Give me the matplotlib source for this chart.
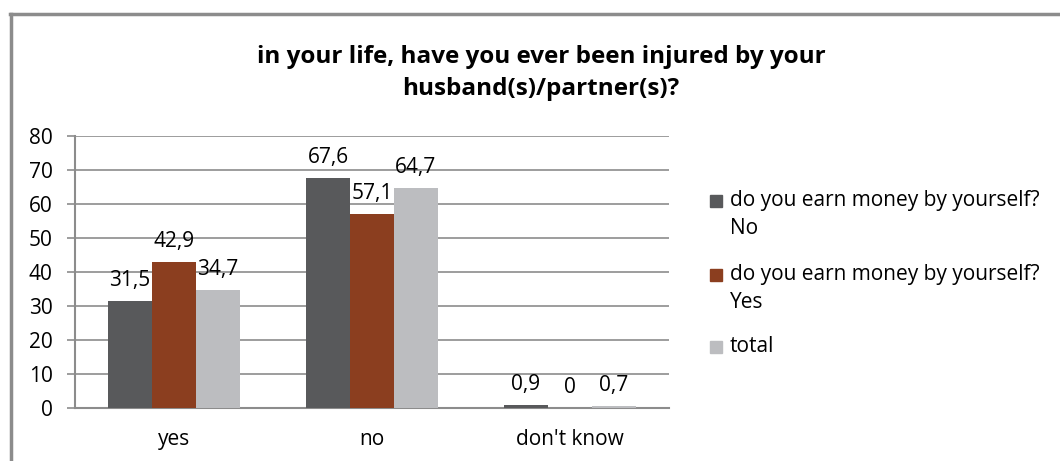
import numpy as np
import matplotlib.pyplot as plt
from matplotlib.lines import Line2D
from matplotlib.patches import Rectangle

plt.rcParams['font.family'] = ['Open Sans', 'DejaVu Sans']

categories = ['yes', 'no', "don't know"]
earn_no = [31.5, 67.6, 0.9]
earn_yes = [42.9, 57.1, 0]
total = [34.7, 64.7, 0.7]
series_names = ['do you earn money by yourself?\nNo',
                'do you earn money by yourself?\nYes',
                'total']
colors = ['#58595b', '#8b3e1f', '#bcbdc0']

W, H = 1060, 461
fig = plt.figure(figsize=(W / 100, H / 100), dpi=100)
ax = fig.add_axes([75 / W, 1 - 408 / H, 594 / W, 272 / H])

x = np.arange(len(categories))
w = 0.222
for i, (vals, c) in enumerate(zip([earn_no, earn_yes, total], colors)):
    bars = ax.bar(x + (i - 1) * w, vals, w, color=c, zorder=3)
    ax.bar_label(bars, labels=[f'{v:g}'.replace('.', ',') for v in vals],
                 padding=7, fontsize=15)

ax.set_xlim(-0.5, 2.5)
ax.set_ylim(0, 80)
ax.set_yticks(range(0, 81, 10))
ax.set_xticks(x)
ax.set_xticklabels(categories, fontsize=15)
ax.tick_params(axis='y', labelsize=15, length=6, color='#8c8c8c', width=1.2, pad=10)
ax.tick_params(axis='x', length=0, pad=15)
ax.grid(axis='y', color='#8c8c8c', linewidth=1.2, zorder=0)
for side in ['top', 'right']:
    ax.spines[side].set_visible(False)
for side in ['left', 'bottom']:
    ax.spines[side].set_color('#8c8c8c')
    ax.spines[side].set_linewidth(1.5)

fig.text(541 / W, 1 - 45 / H, 'in your life, have you ever been injured by your\nhusband(s)/partner(s)?',
         ha='center', va='top', fontsize=17.5, fontweight='bold', linespacing=1.42)

# legend, handle aligned with first line of each label
legend_rows = [201, 275, 347]
for name, c, yc in zip(series_names, colors, legend_rows):
    fig.add_artist(Rectangle((710 / W, 1 - (yc + 6) / H), 12 / W, 12 / H,
                             color=c, transform=fig.transFigure))
    fig.text(730 / W, 1 - (yc - 11) / H, name, ha='left', va='top', fontsize=15,
             linespacing=1.45)

# figure border (cropped on right and bottom)
fig.add_artist(Line2D([10 / W, 1], [1 - 14 / H, 1 - 14 / H], color='#8c8c8c', lw=2.5,
                      transform=fig.transFigure))
fig.add_artist(Line2D([11 / W, 11 / W], [1 - 14 / H, 0], color='#8c8c8c', lw=2.5,
                      transform=fig.transFigure))

fig.savefig('out.png', dpi=100)
